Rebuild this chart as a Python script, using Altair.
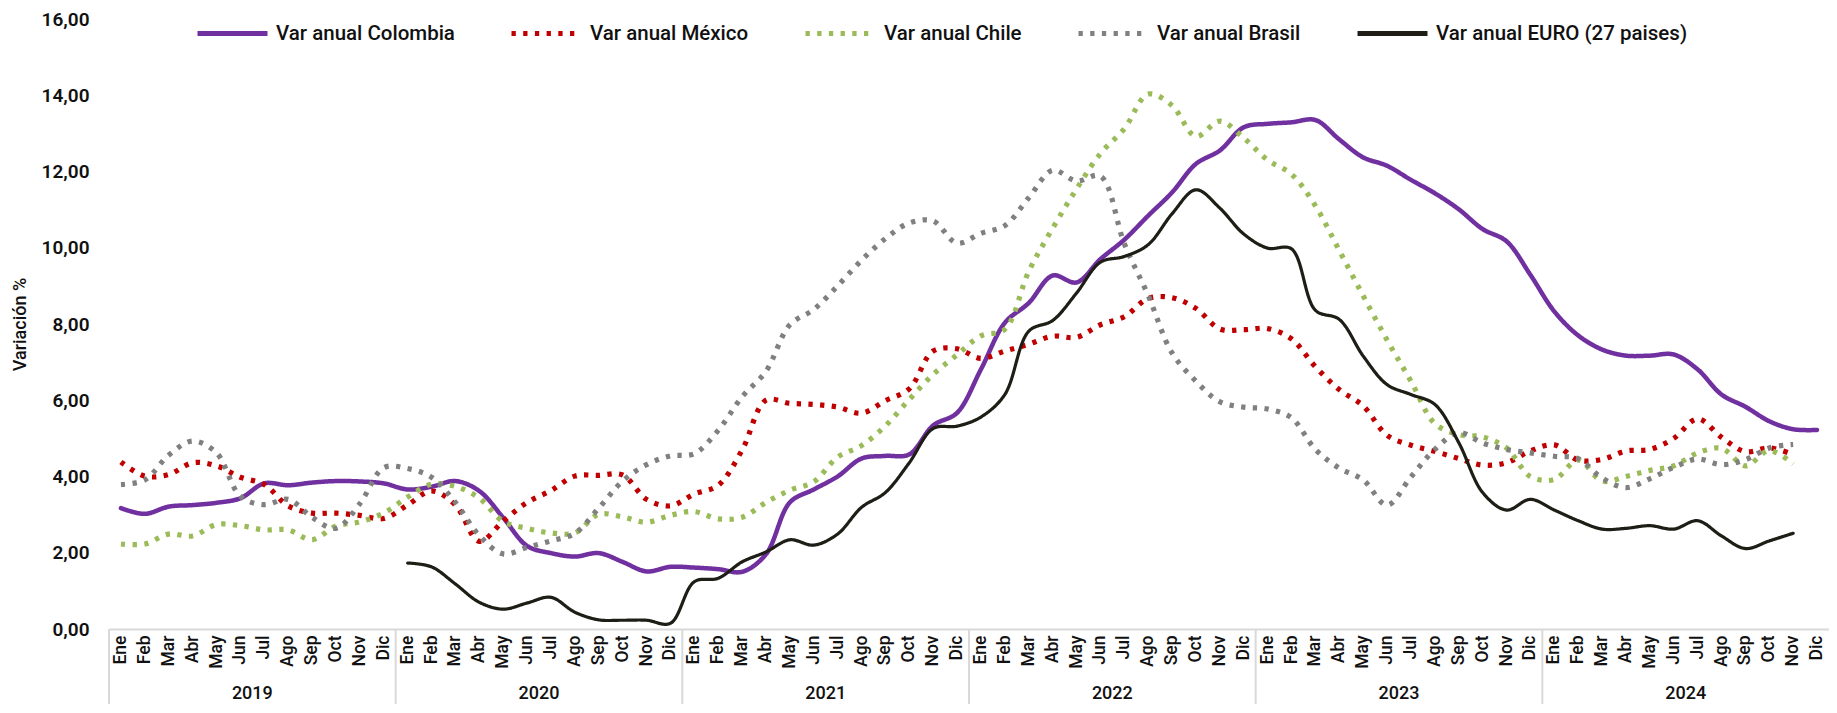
import altair as alt
import pandas as pd

MONTHS = ["Ene", "Feb", "Mar", "Abr", "May", "Jun", "Jul", "Ago", "Sep", "Oct", "Nov", "Dic"]
YEARS = [2019, 2020, 2021, 2022, 2023, 2024]
SERIES = ["Var anual Colombia", "Var anual México", "Var anual Chile",
          "Var anual Brasil", "Var anual EURO (27 paises)"]
COLORS = ["#7030A0", "#C00000", "#9BBB59", "#808080", "#1E1E16"]

colombia = [3.17, 3.02, 3.21, 3.25, 3.31, 3.43, 3.82, 3.77, 3.84, 3.88, 3.87, 3.82,
            3.66, 3.73, 3.88, 3.62, 2.92, 2.18, 1.99, 1.90, 1.99, 1.76, 1.51, 1.63,
            1.61, 1.57, 1.50, 1.96, 3.32, 3.66, 4.00, 4.47, 4.54, 4.58, 5.34, 5.67,
            6.81, 8.03, 8.55, 9.27, 9.09, 9.70, 10.21, 10.84, 11.45, 12.20, 12.55, 13.16,
            13.25, 13.29, 13.35, 12.84, 12.37, 12.15, 11.78, 11.43, 11.01, 10.49, 10.17, 9.29,
            8.33, 7.70, 7.33, 7.17, 7.17, 7.20, 6.81, 6.15, 5.83, 5.45, 5.24, 5.22]
mexico = [4.38, 4.01, 4.05, 4.36, 4.28, 3.98, 3.79, 3.23, 3.04, 3.04, 2.98, 2.90,
          3.25, 3.62, 3.25, 2.30, 2.83, 3.32, 3.63, 4.01, 4.03, 4.04, 3.40, 3.23,
          3.54, 3.77, 4.69, 6.00, 5.92, 5.89, 5.82, 5.66, 5.99, 6.30, 7.29, 7.35,
          7.10, 7.29, 7.47, 7.68, 7.65, 7.98, 8.19, 8.67, 8.69, 8.41, 7.87, 7.85,
          7.88, 7.61, 6.88, 6.28, 5.85, 5.08, 4.82, 4.66, 4.47, 4.30, 4.36, 4.67,
          4.83, 4.43, 4.45, 4.67, 4.71, 5.00, 5.51, 5.03, 4.65, 4.75, 4.58, None]
chile = [2.23, 2.23, 2.49, 2.44, 2.74, 2.71, 2.60, 2.60, 2.34, 2.70, 2.81, 3.04,
         3.46, 3.80, 3.74, 3.43, 2.82, 2.64, 2.52, 2.52, 3.01, 2.94, 2.80, 2.98,
         3.08, 2.89, 2.93, 3.32, 3.64, 3.86, 4.51, 4.81, 5.33, 6.02, 6.68, 7.19,
         7.69, 7.86, 9.38, 10.51, 11.54, 12.47, 13.12, 14.03, 13.73, 12.92, 13.32, 12.88,
         12.30, 11.93, 11.10, 9.93, 8.74, 7.58, 6.50, 5.39, 5.10, 5.04, 4.75, 4.00,
         3.92, 4.43, 3.88, 4.00, 4.16, 4.28, 4.62, 4.74, 4.28, 4.68, 4.33, None]
brasil = [3.79, 3.91, 4.56, 4.93, 4.62, 3.48, 3.26, 3.40, 2.93, 2.64, 3.29, 4.23,
          4.21, 3.98, 3.32, 2.45, 1.97, 2.14, 2.31, 2.51, 3.17, 3.88, 4.31, 4.54,
          4.60, 5.21, 6.09, 6.76, 7.98, 8.38, 9.00, 9.67, 10.24, 10.65, 10.70, 10.12,
          10.38, 10.58, 11.31, 12.03, 11.75, 11.88, 10.11, 8.75, 7.24, 6.50, 5.96, 5.82,
          5.77, 5.54, 4.71, 4.22, 3.91, 3.25, 3.99, 4.71, 5.15, 4.88, 4.71, 4.62,
          4.53, 4.47, 3.96, 3.71, 3.94, 4.24, 4.46, 4.31, 4.44, 4.75, 4.84, None]
euro = [None] * 12 + [
        1.73, 1.63, 1.18, 0.70, 0.52, 0.68, 0.83, 0.44, 0.24, 0.23, 0.23, 0.15,
        1.24, 1.33, 1.76, 2.02, 2.34, 2.20, 2.49, 3.19, 3.58, 4.36, 5.26, 5.32,
        5.56, 6.15, 7.81, 8.09, 8.81, 9.62, 9.77, 10.08, 10.89, 11.52, 11.04, 10.36,
        9.99, 9.97, 8.36, 8.12, 7.16, 6.41, 6.15, 5.89, 4.89, 3.58, 3.12, 3.40,
        3.12, 2.84, 2.62, 2.64, 2.71, 2.62, 2.84, 2.44, 2.11, 2.31, 2.51, None]

Y_TICKS = [0, 2, 4, 6, 8, 10, 12, 14, 16]

# ---------------------------------------------------------------- data table
KEYS = [f"{y}-{m}" for y in YEARS for m in MONTHS]
rows = []
for serie, vals in zip(SERIES, [colombia, mexico, chile, brasil, euro]):
    for k, v in zip(KEYS, vals):
        if v is not None:
            rows.append({"serie": serie, "key": k, "valor": v})
df = pd.DataFrame(rows)

years_df = pd.DataFrame({"anio": [str(y) for y in YEARS],
                         "key": [f"{y}-Jun" for y in YEARS]})
sep_df = pd.DataFrame({"key": [f"{y}-Ene" for y in YEARS]})

# ---------------------------------------------------------------- styling
W, H = 1720, 610
PAD_T, PAD_L, PAD_B = 11, 101, 75
FONT = "Roboto"
TXT = "#111111"
DOT = [4.3, 7.4]
DASHES = [[1, 0], DOT, DOT, DOT, [1, 0]]

x_scale = alt.Scale(type="band", domain=KEYS, paddingInner=0, paddingOuter=0)
y_scale = alt.Scale(domain=[0, 16], nice=False, zero=True)

x_axis = alt.Axis(title=None, labelExpr="split(datum.value, '-')[1]", labelAngle=270,
                  labelAlign="right", labelBaseline="middle", labelPadding=6,
                  ticks=False, grid=False, domainColor="#d9d9d9", domainWidth=2,
                  labelFontSize=17.5, labelFont=FONT, labelFontWeight=500,
                  labelColor=TXT, labelOverlap=False)
y_axis = alt.Axis(title="Variación %", values=Y_TICKS,
                  labelExpr="replace(format(datum.value, '.2f'), '.', ',')",
                  domain=False, ticks=False, grid=False, labelFontSize=19,
                  labelFont=FONT, labelFontWeight=600, labelColor=TXT,
                  labelPadding=20, titleFontSize=18, titleFont=FONT,
                  titleFontWeight=500, titleColor=TXT, titlePadding=12)

leg = alt.Legend(title=None, orient="none", legendX=86, legendY=-23,
                 direction="horizontal", columns=5, columnPadding=46,
                 labelFontSize=20.5, labelFont=FONT, labelFontWeight=500,
                 labelColor=TXT, labelOffset=6, labelLimit=500,
                 symbolType="stroke", symbolStrokeWidth=5, symbolSize=4900)


def xenc(bp=0.5):
    return alt.X("key:N", scale=x_scale, bandPosition=bp, axis=x_axis)


YENC = alt.Y("valor:Q", scale=y_scale, axis=y_axis)
STROKE = alt.Stroke("serie:N", scale=alt.Scale(domain=SERIES, range=COLORS), legend=leg)
DASH = alt.StrokeDash("serie:N", scale=alt.Scale(domain=SERIES, range=DASHES), legend=leg)

base = alt.Chart(df)

col_line = base.transform_filter(alt.datum.serie == SERIES[0]).mark_line(
    interpolate="catmull-rom", strokeWidth=4.5, strokeCap="round", strokeJoin="round"
).encode(x=xenc(), y=YENC, stroke=STROKE, strokeDash=DASH)

dotted = base.transform_filter(
    alt.FieldOneOfPredicate(field="serie", oneOf=SERIES[1:4])
).mark_line(
    interpolate="catmull-rom", strokeWidth=5.2, strokeCap="butt"
).encode(x=xenc(), y=YENC, stroke=STROKE, strokeDash=DASH)

euro_line = base.transform_filter(alt.datum.serie == SERIES[4]).mark_line(
    interpolate="catmull-rom", strokeWidth=3.2, strokeCap="round", strokeJoin="round"
).encode(x=xenc(), y=YENC, stroke=STROKE, strokeDash=DASH)

year_text = alt.Chart(years_df).mark_text(
    fontSize=18, font=FONT, fontWeight=500, color=TXT, baseline="middle"
).encode(x=xenc(1), y=alt.value(H + 65), text="anio:N")

seps = alt.Chart(sep_df).mark_rule(color="#d9d9d9", strokeWidth=2).encode(
    x=xenc(0), y=alt.value(H), y2=alt.value(H + PAD_B))

chart = alt.layer(seps, col_line, dotted, euro_line, year_text).properties(
    width=W, height=H, background="white",
    autosize=alt.AutoSizeParams(type="none"),
    padding={"top": PAD_T, "left": PAD_L, "right": 0, "bottom": PAD_B}
).configure(font=FONT).configure_view(stroke=None)

chart.save("out.html", embed_options={"renderer": "svg", "actions": False})
